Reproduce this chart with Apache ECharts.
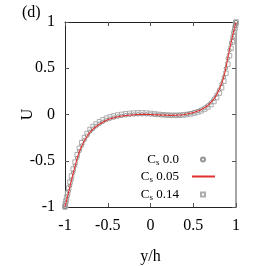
<!DOCTYPE html>
<html>
<head>
<meta charset="utf-8">
<script src="https://cdn.jsdelivr.net/npm/echarts@6/dist/echarts.min.js"></script>
<style>html,body{margin:0;padding:0;background:#fff;}#c{width:266px;height:266px;}</style>
</head>
<body>
<div id="c"></div>
<script>
// wall-normal positions y/h (clustered near the walls)
var yPos = [-1,-0.9988,-0.9952,-0.9892,-0.9808,-0.97,-0.9569,-0.9415,-0.9239,-0.904,-0.8819,-0.8577,-0.8315,-0.8032,-0.773,-0.741,-0.7071,-0.6716,-0.6344,-0.5957,-0.5556,-0.5141,-0.4714,-0.4276,-0.3827,-0.3369,-0.2903,-0.243,-0.1951,-0.1467,-0.098,-0.0491,0,
            0.0491,0.098,0.1467,0.1951,0.243,0.2903,0.3369,0.3827,0.4276,0.4714,0.5141,0.5556,0.5957,0.6344,0.6716,0.7071,0.741,0.773,0.8032,0.8315,0.8577,0.8819,0.904,0.9239,0.9415,0.9569,0.97,0.9808,0.9892,0.9952,0.9988,1];
// C_s = 0.05 (red line)
var uCs005 = [-1.0,-0.995,-0.98,-0.955,-0.925,-0.885,-0.835,-0.775,-0.71,-0.635,-0.56,-0.475,-0.40,-0.34,-0.28,-0.235,-0.19,-0.158,-0.13,-0.103,-0.082,-0.063,-0.047,-0.036,-0.025,-0.017,-0.01,-0.005,-0.002,0.0,0.001,0.001,0.0,
              -0.002,-0.004,-0.006,-0.008,-0.009,-0.008,-0.006,-0.002,0.005,0.013,0.024,0.037,0.053,0.074,0.099,0.13,0.168,0.215,0.27,0.335,0.41,0.505,0.61,0.70,0.775,0.835,0.89,0.93,0.96,0.982,0.995,1.0];
// C_s = 0.0 (circles)
var uCs00 = [-1.0,-0.993,-0.978,-0.952,-0.921,-0.88,-0.83,-0.77,-0.705,-0.63,-0.553,-0.47,-0.395,-0.335,-0.276,-0.23,-0.186,-0.154,-0.126,-0.1,-0.079,-0.06,-0.045,-0.033,-0.023,-0.015,-0.008,-0.003,0.0,0.002,0.002,0.002,0.001,
             -0.001,-0.003,-0.005,-0.007,-0.008,-0.007,-0.005,-0.001,0.006,0.014,0.025,0.038,0.054,0.075,0.1,0.131,0.17,0.215,0.268,0.332,0.405,0.5,0.605,0.695,0.77,0.83,0.885,0.927,0.958,0.98,0.994,1.0];
// C_s = 0.14 (squares)
var uCs014 = [-1.0,-0.99,-0.965,-0.935,-0.895,-0.85,-0.795,-0.73,-0.665,-0.59,-0.515,-0.435,-0.365,-0.305,-0.25,-0.205,-0.163,-0.13,-0.103,-0.078,-0.057,-0.04,-0.026,-0.015,-0.006,0.001,0.007,0.012,0.015,0.017,0.017,0.015,0.011,
              0.006,0.001,-0.003,-0.006,-0.008,-0.009,-0.008,-0.005,0.0,0.007,0.016,0.027,0.041,0.059,0.081,0.108,0.141,0.183,0.232,0.29,0.36,0.445,0.545,0.635,0.715,0.785,0.845,0.895,0.935,0.965,0.99,1.0];
var seriesNames = ['Cs 0.0','Cs 0.05','Cs 0.14'];
var legendValues = ['0.0','0.05','0.14'];

function pairs(xs, ys){ return xs.map(function(x,i){return [x, ys[i]];}); }
var font = 'Liberation Serif';
var fmt = function(v){ return String(v); };

function legendFor(i, right, top, iconW, spacer){
  return {
    orient:'vertical',right:right,top:top,align:'right',padding:0,
    itemWidth:iconW,itemHeight:4,itemGap:0,
    data:[i===1 ? {name:seriesNames[i], itemStyle:{opacity:0}} : seriesNames[i]],
    formatter:function(){
      return '{a|C}{s|s}{a| ' + legendValues[i] + '}{g|}';
    },
    textStyle:{
      fontFamily:font,fontSize:13,color:'#000',
      rich:{
        a:{fontFamily:font,fontSize:13,color:'#000',lineHeight:16},
        s:{fontFamily:font,fontSize:9,color:'#000',lineHeight:9,verticalAlign:'bottom'},
        g:{width:spacer}
      }
    }
  };
}

var chart = echarts.init(document.getElementById('c'), null, {renderer:'canvas'});
chart.setOption({
  animation:false,
  backgroundColor:'#fff',
  textStyle:{fontFamily:font},
  grid:{left:65,right:30,top:22,bottom:59,containLabel:false,outerBoundsMode:'none'},
  xAxis:[{
    type:'value',min:-1,max:1,interval:0.5,position:'bottom',
    name:'y/h',nameLocation:'middle',nameGap:42,nameMoveOverlap:false,
    nameTextStyle:{fontFamily:font,fontSize:16,color:'#000'},
    axisLine:{onZero:false,lineStyle:{color:'#222',width:1}},
    axisTick:{inside:true,length:4,lineStyle:{color:'#555'}},
    axisLabel:{fontFamily:font,fontSize:16,color:'#000',margin:11,formatter:fmt},
    splitLine:{show:false}
  },{
    type:'value',min:-1,max:1,interval:0.5,position:'top',
    axisLine:{onZero:false,lineStyle:{color:'#222',width:1}},
    axisTick:{inside:true,length:4,lineStyle:{color:'#555'}},
    axisLabel:{show:false},splitLine:{show:false}
  }],
  yAxis:[{
    type:'value',min:-1,max:1,interval:0.5,position:'left',
    name:'U',nameLocation:'middle',nameGap:29,nameMoveOverlap:false,
    nameTextStyle:{fontFamily:font,fontSize:16,color:'#000'},
    axisLine:{onZero:false,lineStyle:{color:'#222',width:1}},
    axisTick:{inside:true,length:4,lineStyle:{color:'#555'}},
    axisLabel:{fontFamily:font,fontSize:16,color:'#000',margin:10,formatter:fmt},
    splitLine:{show:false}
  },{
    type:'value',min:-1,max:1,interval:0.5,position:'right',
    axisLine:{onZero:false,lineStyle:{color:'#888',width:1.5}},
    axisTick:{inside:true,length:4,lineStyle:{color:'#555'}},
    axisLabel:{show:false},splitLine:{show:false}
  }],
  legend:[
    legendFor(0, 60, 153, 4, 17),
    legendFor(1, 50, 170, 23, 8),
    legendFor(2, 60, 188, 4, 17)
  ],
  graphic:[{
    type:'text',left:22,top:5,
    style:{text:'(d)',font:'16px "Liberation Serif"',fill:'#000'}
  }],
  series:[{
    name:'Cs 0.0',type:'scatter',xAxisIndex:0,yAxisIndex:0,
    data:pairs(yPos,uCs00),
    symbol:'circle',symbolSize:3.5,
    itemStyle:{color:'#fff',borderColor:'#7a7a7a',borderWidth:1},
    z:3
  },{
    name:'Cs 0.05',type:'line',xAxisIndex:0,yAxisIndex:0,
    data:pairs(yPos,uCs005),
    symbol:'none',smooth:0.2,
    lineStyle:{color:'#e03030',width:1.1},
    itemStyle:{color:'#e03030'},
    z:4
  },{
    name:'Cs 0.14',type:'scatter',xAxisIndex:0,yAxisIndex:0,
    data:pairs(yPos,uCs014),
    symbol:'rect',symbolSize:4.5,
    itemStyle:{color:'#fff',borderColor:'#9a9a9a',borderWidth:1},
    z:2
  }]
});
</script>
</body>
</html>
